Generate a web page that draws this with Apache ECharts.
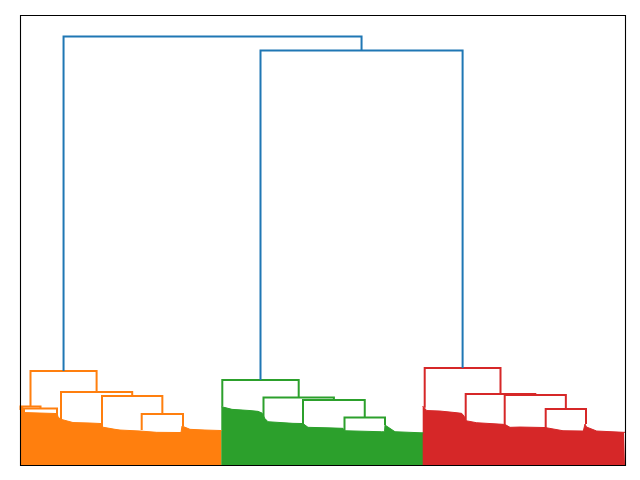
<!DOCTYPE html>
<html>
<head>
<meta charset="utf-8">
<script src="https://cdn.jsdelivr.net/npm/echarts@6/dist/echarts.min.js"></script>
<style>html,body{margin:0;padding:0;background:#fff}#c{width:640px;height:480px}</style>
</head>
<body>
<div id="c"></div>
<script>
// ---- data: dendrogram links (x of the 4 corners, heights of the 4 corners) ----
const linkX = [
  [0.5, 0.5, 20.5, 20.5],
  [4, 4, 37, 37],
  [121.7, 121.7, 163, 163],
  [82, 82, 142.35, 142.35],
  [41, 41, 112.2, 112.2],
  [10.5, 10.5, 76.6, 76.6],
  [324.5, 324.5, 365, 365],
  [283, 283, 344.75, 344.75],
  [243.5, 243.5, 313.9, 313.9],
  [202.3, 202.3, 278.7, 278.7],
  [525.7, 525.7, 566, 566],
  [484.7, 484.7, 545.85, 545.85],
  [445.7, 445.7, 515.3, 515.3],
  [404.7, 404.7, 480.5, 480.5],
  [240.5, 240.5, 442.6, 442.6],
  [43.55, 43.55, 341.55, 341.55]
];
const linkH = [
  [5.5, 5.85, 5.85, 5.65],
  [5.25, 5.65, 5.65, 4.85],
  [3.5, 5.1, 5.1, 3.9],
  [3.8, 6.9, 6.9, 5.1],
  [4.45, 7.3, 7.3, 6.9],
  [5.85, 9.4, 9.4, 7.3],
  [3.43, 4.75, 4.75, 4.0],
  [4.0, 6.5, 6.5, 4.75],
  [4.6, 6.75, 6.75, 6.5],
  [5.83, 8.5, 8.5, 6.75],
  [3.6, 5.6, 5.6, 4.1],
  [4.0, 7.0, 7.0, 5.6],
  [4.43, 7.1, 7.1, 7.0],
  [5.73, 9.7, 9.7, 7.1],
  [8.5, 41.5, 41.5, 9.7],
  [9.4, 42.9, 42.9, 41.5]
];
const linkCluster = [1, 1, 1, 1, 1, 1, 2, 2, 2, 2, 3, 3, 3, 3, 0, 0];

// ---- data: envelope of the dense leaf-level merges of each cluster ----
const leafX1 = [0.5, 3, 4, 20, 37, 38, 40, 41, 53, 70, 81, 82, 95, 100, 120, 136.7, 161, 162, 170, 185, 201.5];
const leafH1 = [5.9, 5.75, 5.25, 5.2, 5.15, 4.85, 4.6, 4.45, 4.25, 4.2, 4.15, 3.8, 3.57, 3.5, 3.4, 3.27, 3.25, 3.9, 3.57, 3.5, 3.45];
const leafX2 = [201.3, 205, 212, 230, 238, 242, 244.7, 248, 273, 283, 285, 288, 308, 323, 324.5, 361.7, 364.5, 365, 375, 400, 403.5];
const leafH2 = [5.83, 5.75, 5.57, 5.45, 5.37, 5.2, 4.67, 4.33, 4.17, 4.15, 4.0, 3.77, 3.72, 3.67, 3.43, 3.33, 3.33, 4.0, 3.33, 3.23, 3.22];
const leafX3 = [402.7, 406.7, 420, 435, 441.7, 444, 446, 456.7, 483.3, 485, 486, 490, 500, 525, 526, 543, 563.3, 565, 566.5, 576.7, 604, 605];
const leafH3 = [5.9, 5.45, 5.4, 5.25, 5.17, 4.9, 4.43, 4.23, 4.07, 4.23, 4.0, 3.77, 3.8, 3.75, 3.6, 3.43, 3.4, 4.1, 3.8, 3.4, 3.27, 3.27];

const xMax = 605;
const yMax = 45.05;

// ---- styles ----
const clusterColors = ['#1f77b4', '#ff7f0e', '#2ca02c', '#d62728'];

const series = [];
[[leafX1, leafH1, 1], [leafX2, leafH2, 2], [leafX3, leafH3, 3]].forEach(([xs, hs, c]) => {
  series.push({
    type: 'line',
    data: xs.map((x, i) => [x, hs[i]]),
    symbol: 'none',
    silent: true,
    z: 1,
    lineStyle: { color: clusterColors[c], width: 1 },
    areaStyle: { color: clusterColors[c], opacity: 1, origin: 'start' }
  });
});
linkX.forEach((xs, k) => {
  series.push({
    type: 'line',
    data: xs.map((x, i) => [x, linkH[k][i]]),
    symbol: 'none',
    silent: true,
    z: 3,
    lineStyle: { color: clusterColors[linkCluster[k]], width: 2, join: 'miter', cap: 'butt' }
  });
});

const chart = echarts.init(document.getElementById('c'), null, { renderer: 'canvas' });
chart.setOption({
  animation: false,
  backgroundColor: '#ffffff',
  grid: { left: 20, right: 15, top: 15, bottom: 15, show: false, containLabel: false },
  xAxis: { type: 'value', min: 0, max: xMax, show: false },
  yAxis: { type: 'value', min: 0, max: yMax, show: false },
  graphic: [{
    type: 'rect',
    silent: true,
    z: 100,
    shape: { x: 20.5, y: 15.5, width: 605, height: 450 },
    style: { fill: null, stroke: '#000000', lineWidth: 1.1 }
  }],
  series: series
});
</script>
</body>
</html>
